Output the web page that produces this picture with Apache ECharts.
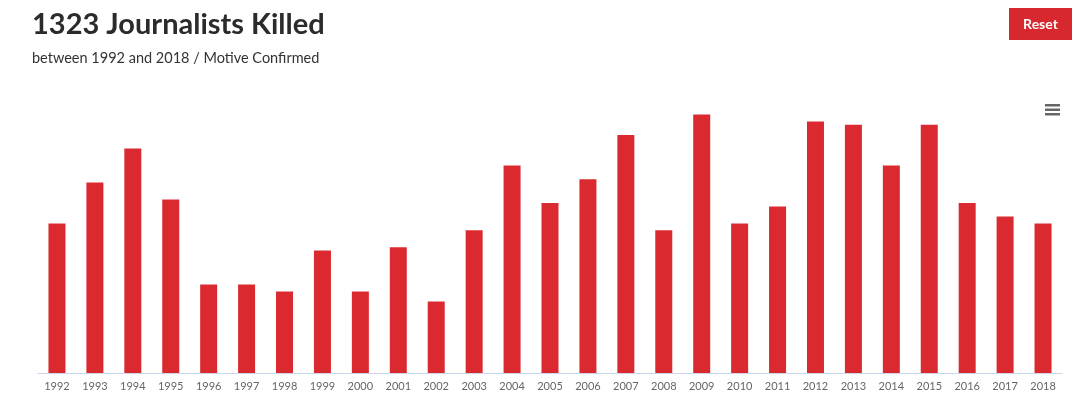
<!DOCTYPE html>
<html>
<head>
<meta charset="utf-8">
<script src="https://cdn.jsdelivr.net/npm/echarts@6/dist/echarts.min.js"></script>
<style>
  html, body { margin: 0; padding: 0; background: #fff; }
  #chart { width: 1080px; height: 400px; }
</style>
</head>
<body>
<div id="chart"></div>
<script>
// journalists killed per year (motive confirmed)
const years = ['1992', '1993', '1994', '1995', '1996', '1997', '1998', '1999', '2000',
  '2001', '2002', '2003', '2004', '2005', '2006', '2007', '2008', '2009',
  '2010', '2011', '2012', '2013', '2014', '2015', '2016', '2017', '2018']
const killed = [44, 56, 66, 51, 26, 26, 24, 36, 24,
  37, 21, 42, 61, 50, 57, 70, 42, 76,
  44, 49, 74, 73, 61, 73, 50, 46, 44]

const titleText = '1323 Journalists Killed'
const subText = 'between 1992 and 2018 / Motive Confirmed'

const chart = echarts.init(document.getElementById('chart'))

chart.setOption({
  backgroundColor: '#fff',
  animation: false,
  title: {
    text: titleText,
    subtext: subText,
    left: 27,
    top: 5,
    itemGap: 12,
    textStyle: { fontFamily: 'Lato', fontSize: 29, fontWeight: 'bold', color: '#2b2b2b' },
    subtextStyle: { fontFamily: 'Lato', fontSize: 14.5, color: '#333' }
  },
  grid: { left: 38, right: 18, top: 101, bottom: 27 },
  xAxis: {
    type: 'category',
    data: years,
    axisLine: { lineStyle: { color: '#ccd6eb', width: 1 } },
    axisTick: { length: 10, lineStyle: { color: '#ccd6eb' } },
    axisLabel: { color: '#666', fontSize: 11, fontFamily: 'Lato', margin: 8, interval: 0 }
  },
  yAxis: {
    type: 'value',
    min: 0,
    max: 80,
    show: false
  },
  series: [
    {
      name: 'Killed',
      type: 'bar',
      data: killed,
      barWidth: 17,
      itemStyle: { color: '#da2a30' }
    }
  ],
  graphic: [
    {
      type: 'group',
      left: 1009,
      top: 8,
      children: [
        { type: 'rect', shape: { x: 0, y: 0, width: 63, height: 32 }, style: { fill: '#d7282f' } },
        {
          type: 'text',
          style: {
            x: 31.5, y: 16, text: 'Reset', fill: '#fff', align: 'center', verticalAlign: 'middle',
            font: 'bold 14px Lato'
          }
        }
      ]
    },
    {
      type: 'group',
      left: 1045,
      top: 104,
      children: [
        { type: 'rect', shape: { x: 0, y: 0, width: 15, height: 2.5 }, style: { fill: '#666' } },
        { type: 'rect', shape: { x: 0, y: 4.5, width: 15, height: 2.5 }, style: { fill: '#666' } },
        { type: 'rect', shape: { x: 0, y: 9, width: 15, height: 2.5 }, style: { fill: '#666' } }
      ]
    }
  ]
})
</script>
</body>
</html>
